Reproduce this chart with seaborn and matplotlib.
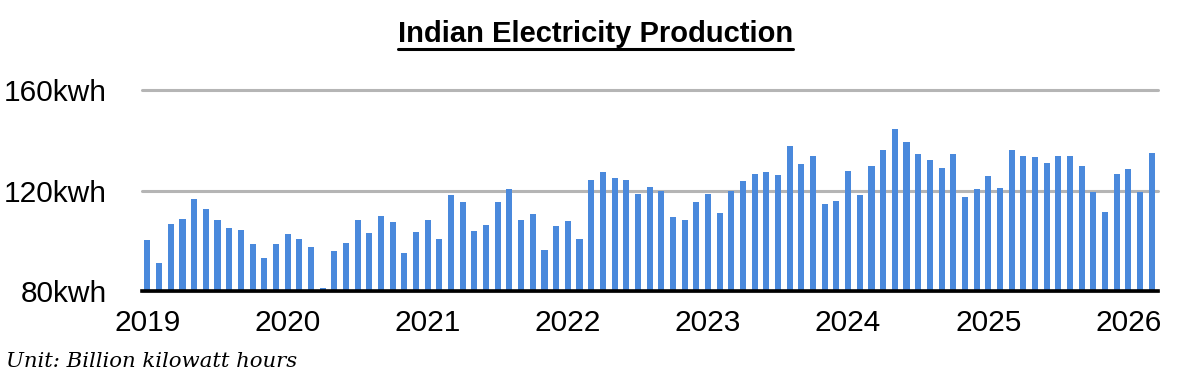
import matplotlib
matplotlib.use("Agg")
import matplotlib.pyplot as plt
import seaborn as sns
import pandas as pd
from matplotlib.lines import Line2D

# ---- data ----
years = ["2019", "2020", "2021", "2022", "2023", "2024", "2025", "2026"]
vals_2019 = [100.4, 91.3, 106.8, 108.8, 116.8, 112.8, 108.4, 105.2, 104.4, 98.8, 93.2, 98.8]
vals_2020 = [102.8, 100.8, 97.6, 81.1, 96.0, 99.2, 108.4, 103.2, 110.0, 107.6, 95.2, 103.6]
vals_2021 = [108.4, 100.8, 118.4, 115.6, 104.0, 106.4, 115.6, 120.8, 108.4, 110.8, 96.4, 106.0]
vals_2022 = [108.0, 100.8, 124.0, 127.2, 124.8, 124.0, 118.8, 121.6, 120.0, 109.6, 108.4, 115.6]
vals_2023 = [118.8, 111.2, 120.0, 123.6, 126.4, 127.2, 126.0, 137.6, 130.4, 133.6, 114.8, 116.0]
vals_2024 = [127.6, 118.4, 129.6, 136.0, 144.4, 139.2, 134.4, 132.0, 128.8, 134.4, 117.6, 120.8]
vals_2025 = [125.6, 121.2, 136.0, 133.6, 133.2, 130.8, 133.6, 133.6, 129.6, 119.6, 111.6, 126.4]
vals_2026 = [128.4, 119.6, 134.8]
ytick_values = [80, 120, 160]
ytick_labels = ["80kwh", "120kwh", "160kwh"]
title = "Indian Electricity Production"
caption = "Unit: Billion kilowatt hours"

series = [vals_2019, vals_2020, vals_2021, vals_2022, vals_2023, vals_2024, vals_2025, vals_2026]
months, values = [], []
for y, vals in zip(years, series):
    for m, v in enumerate(vals):
        months.append(f"{y}-{m+1:02d}")
        values.append(v)
df = pd.DataFrame({"month": months, "value": values})

# ---- figure ----
sns.set_theme(style="white")
plt.rcParams["font.family"] = ["Liberation Sans", "DejaVu Sans"]
plt.rcParams["text.color"] = "black"
plt.rcParams["xtick.color"] = "black"
plt.rcParams["ytick.color"] = "black"

fig = plt.figure(figsize=(11.8, 3.83), dpi=100)
ax = fig.add_axes([0.120, 0.240, 0.861, 0.525])
ax.set_axisbelow(True)

sns.barplot(data=df, x="month", y="value", order=months, color="#4A89DC",
            saturation=1, width=0.52, linewidth=0, edgecolor="none",
            ax=ax, zorder=3)

ax.set_ylim(80, 160)
ax.set_xlim(-0.5, len(months) - 0.5)
ax.set_yticks(ytick_values)
ax.set_yticklabels(ytick_labels, fontsize=21.5)
ax.yaxis.grid(True, color="#b5b5b5", linewidth=2.2)
for gl in ax.get_ygridlines():
    gl.set_clip_on(False)

jan_pos = [months.index(f"{y}-01") for y in years]
ax.set_xticks(jan_pos)
ax.set_xticklabels(years, fontsize=21.5)
ax.tick_params(axis="x", length=0, pad=13, colors="black")
ax.tick_params(axis="y", length=0, pad=25, colors="black")
ax.set_xlabel("")
ax.set_ylabel("")

for s in ["left", "right", "top"]:
    ax.spines[s].set_visible(False)
ax.spines["bottom"].set_color("black")
ax.spines["bottom"].set_linewidth(2.6)
ax.spines["bottom"].set_zorder(4)

t = fig.text(0.505, 0.89, title, ha="center", va="baseline", fontsize=21,
             fontweight="bold", color="black",
             family=["Liberation Sans", "DejaVu Sans"])
fig.text(0.005, 0.042, caption, ha="left", va="baseline", fontsize=15.3,
         style="italic", color="black", family=["DejaVu Serif"])

fig.canvas.draw()
bb = t.get_window_extent().transformed(fig.transFigure.inverted())
W, H = fig.get_size_inches() * fig.dpi
uy = 1 - 48.5 / H
fig.add_artist(Line2D([bb.x0, bb.x1], [uy, uy], transform=fig.transFigure,
                      color="black", linewidth=2.2))

fig.savefig("out.png", dpi=100)
